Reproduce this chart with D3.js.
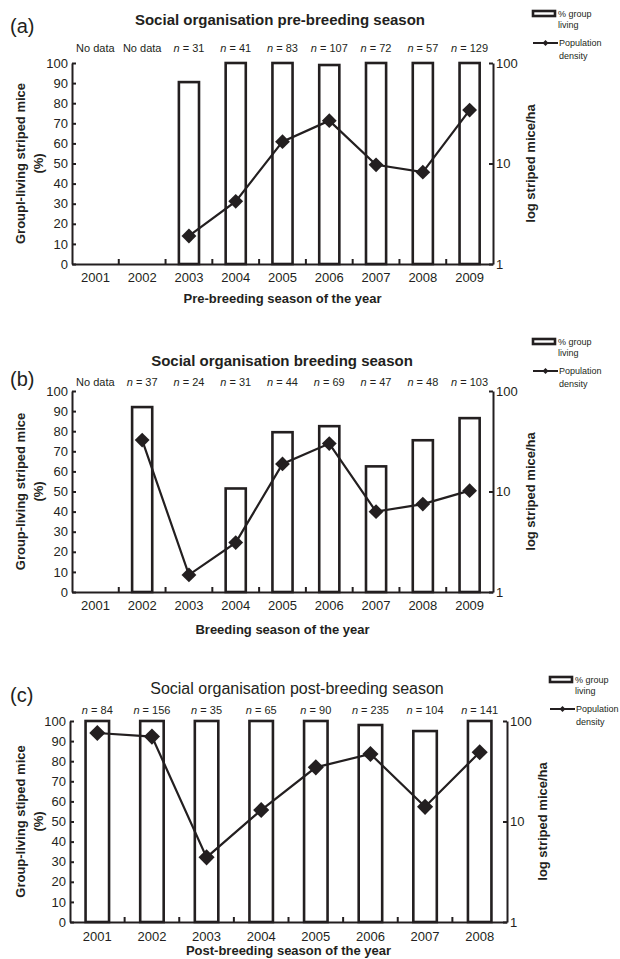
<!DOCTYPE html>
<html>
<head>
<meta charset="utf-8">
<script src="https://cdn.jsdelivr.net/npm/d3@7"></script>
<style>
  body { margin: 0; background: #fff; }
  svg text { font-family: "Liberation Sans", Arial, sans-serif; fill: #231f20; }
  .axis path, .axis line { stroke: #231f20; stroke-width: 2px; }
  .axis text { font-size: 13px; }
  .bar { fill: #fff; stroke: #231f20; stroke-width: 2.6px; }
  .density-line { fill: none; stroke: #231f20; stroke-width: 2.2px; }
  .marker { fill: #231f20; }
  .ntext { font-size: 11px; }
  .legend text { font-size: 9px; }
  .axis-title { font-size: 13px; font-weight: bold; }
</style>
</head>
<body>
<script>
// (a) pre-breeding
var yearsA   = ['2001', '2002', '2003', '2004', '2005', '2006', '2007', '2008', '2009'];
var sampleA  = ['No data', 'No data', '31', '41', '83', '107', '72', '57', '129'];
var groupA   = [null, null, 90.5, 100, 100, 99, 100, 100, 100];
var densityA = [null, null, 1.9, 4.2, 16.5, 26.7, 9.7, 8.2, 34];

// (b) breeding
var yearsB   = ['2001', '2002', '2003', '2004', '2005', '2006', '2007', '2008', '2009'];
var sampleB  = ['No data', '37', '24', '31', '44', '69', '47', '48', '103'];
var groupB   = [null, 92, 0, 51.5, 79.5, 82.5, 62.5, 75.5, 86.5];
var densityB = [null, 32.5, 1.48, 3.1, 18.8, 30, 6.3, 7.5, 10.2];

// (c) post-breeding
var yearsC   = ['2001', '2002', '2003', '2004', '2005', '2006', '2007', '2008'];
var sampleC  = ['84', '156', '35', '65', '90', '235', '104', '141'];
var groupC   = [100, 100, 100, 100, 100, 98, 95, 100];
var densityC = [76, 70, 4.4, 13, 34.6, 47, 14, 48.9];

var pctTicks = d3.range(0, 101, 10);
var logTicks = [1, 10, 100];

var svg = d3.select('body').append('svg')
  .attr('width', 620)
  .attr('height', 959);

function drawLegend (svg, lx, ly) {
  var lg = svg.append('g').attr('class', 'legend')
    .attr('transform', 'translate(' + lx + ',' + ly + ')');

  lg.append('rect')
    .attr('class', 'bar')
    .attr('x', 0).attr('y', 0)
    .attr('width', 22).attr('height', 5);
  lg.append('text').attr('x', 25).attr('y', 6).text('% group');
  lg.append('text').attr('x', 25).attr('y', 17).text('living');

  lg.append('line')
    .attr('x1', 0).attr('x2', 25)
    .attr('y1', 32).attr('y2', 32)
    .attr('stroke', '#231f20').attr('stroke-width', 2);
  lg.append('path')
    .attr('class', 'marker')
    .attr('d', d3.symbol(d3.symbolSquare, 18)())
    .attr('transform', 'translate(12.5,32) rotate(45)');
  lg.append('text').attr('x', 26).attr('y', 35).text('Population');
  lg.append('text').attr('x', 26).attr('y', 48).text('density');
}

function drawPanel (svg, p) {
  var w = p.right - p.left,
      h = p.bottom - p.top;

  var data = p.years.map(function (yr, i) {
    return { year: yr, n: p.sample[i], pct: p.group[i], dens: p.density[i] };
  });

  var x = d3.scaleBand().domain(p.years).range([0, w]);
  var y = d3.scaleLinear().domain([0, 100]).range([h, 0]);
  var yLog = d3.scaleLog().domain([1, 100]).range([h, 0]);

  var g = svg.append('g')
    .attr('transform', 'translate(' + p.left + ',' + p.top + ')');

  var barW = x.bandwidth() * 0.43;
  g.selectAll('.bar')
    .data(data.filter(function (d) { return d.pct; }))
    .enter().append('rect')
      .attr('class', 'bar')
      .attr('x', function (d) { return x(d.year) + (x.bandwidth() - barW) / 2; })
      .attr('y', function (d) { return y(d.pct); })
      .attr('width', barW)
      .attr('height', function (d) { return h - y(d.pct); });

  g.append('g')
    .attr('class', 'axis')
    .call(d3.axisLeft(y).tickValues(pctTicks).tickSizeInner(-4).tickSizeOuter(0).tickPadding(4));

  g.append('g')
    .attr('class', 'axis')
    .attr('transform', 'translate(' + w + ',0)')
    .call(d3.axisRight(yLog).tickValues(logTicks).tickFormat(d3.format('d'))
      .tickSizeInner(-4).tickSizeOuter(0).tickPadding(3));

  var xAxis = g.append('g')
    .attr('class', 'axis')
    .attr('transform', 'translate(0,' + h + ')')
    .call(d3.axisBottom(x).tickSize(0).tickPadding(p.tickPad));

  xAxis.selectAll('.between')
    .data(p.years.slice(1))
    .enter().append('line')
      .attr('class', 'between')
      .attr('x1', function (d) { return x(d); })
      .attr('x2', function (d) { return x(d); })
      .attr('y1', 0)
      .attr('y2', -5);

  var line = d3.line()
    .defined(function (d) { return d.dens != null; })
    .x(function (d) { return x(d.year) + x.bandwidth() / 2; })
    .y(function (d) { return yLog(d.dens); });

  g.append('path')
    .datum(data)
    .attr('class', 'density-line')
    .attr('d', line);

  g.selectAll('.marker')
    .data(data.filter(function (d) { return d.dens != null; }))
    .enter().append('path')
      .attr('class', 'marker')
      .attr('d', d3.symbol(d3.symbolSquare, p.markerSize)())
      .attr('transform', function (d) {
        return 'translate(' + (x(d.year) + x.bandwidth() / 2) + ',' + yLog(d.dens) + ') rotate(45)';
      });

  // sample sizes above the bars
  var nt = g.selectAll('.ntext')
    .data(data)
    .enter().append('text')
      .attr('class', 'ntext')
      .attr('text-anchor', 'middle')
      .attr('x', function (d) { return x(d.year) + x.bandwidth() / 2; })
      .attr('y', p.nY - p.top);
  nt.filter(function (d) { return d.n === 'No data'; }).text('No data');
  nt.filter(function (d) { return d.n !== 'No data'; })
    .each(function (d) {
      var t = d3.select(this);
      t.append('tspan').style('font-style', 'italic').text('n');
      t.append('tspan').text(' = ' + d.n);
    });

  // titles
  svg.append('text')
    .attr('x', 10).attr('y', p.letterY)
    .style('font-size', '20px')
    .text(p.letter);

  svg.append('text')
    .attr('x', p.titleX).attr('y', p.titleY)
    .attr('text-anchor', 'middle')
    .style('font-size', p.titleSize)
    .style('font-weight', p.titleWeight)
    .text(p.title);

  svg.append('text')
    .attr('class', 'axis-title')
    .attr('x', p.left + w / 2).attr('y', p.xTitleY)
    .attr('text-anchor', 'middle')
    .text(p.xTitle);

  var yc = p.top + h / 2;
  [[20, p.yTitle], [38, '(%)']].forEach(function (t) {
    svg.append('text')
      .attr('class', 'axis-title')
      .attr('text-anchor', 'middle')
      .attr('dy', '0.35em')
      .attr('transform', 'translate(' + t[0] + ',' + yc + ') rotate(-90)')
      .text(t[1]);
  });

  svg.append('text')
    .attr('class', 'axis-title')
    .attr('text-anchor', 'middle')
    .attr('dy', '0.35em')
    .attr('transform', 'translate(' + p.rTitleX + ',' + yc + ') rotate(-90)')
    .text('log striped mice/ha');

  drawLegend(svg, p.legendX, p.legendY);
}

drawPanel(svg, {
  years: yearsA, sample: sampleA, group: groupA, density: densityA,
  left: 72, right: 493, top: 63, bottom: 264, tickPad: 9, markerSize: 110,
  nY: 52, letter: '(a)', letterY: 33,
  title: 'Social organisation pre-breeding season', titleX: 280, titleY: 25, titleSize: '15px', titleWeight: 'bold',
  xTitle: 'Pre-breeding season of the year', xTitleY: 303,
  yTitle: 'Groupl-living striped mice', rTitleX: 530,
  legendX: 533, legendY: 11
});

drawPanel(svg, {
  years: yearsB, sample: sampleB, group: groupB, density: densityB,
  left: 72, right: 493, top: 391, bottom: 592, tickPad: 9, markerSize: 110,
  nY: 386, letter: '(b)', letterY: 386,
  title: 'Social organisation breeding season', titleX: 282, titleY: 366, titleSize: '15px', titleWeight: 'bold',
  xTitle: 'Breeding season of the year', xTitleY: 634,
  yTitle: 'Group-living striped mice', rTitleX: 530,
  legendX: 533, legendY: 339
});

drawPanel(svg, {
  years: yearsC, sample: sampleC, group: groupC, density: densityC,
  left: 70, right: 507, top: 721, bottom: 922, tickPad: 10, markerSize: 130,
  nY: 714, letter: '(c)', letterY: 702,
  title: 'Social organisation post-breeding season', titleX: 297, titleY: 694, titleSize: '16px', titleWeight: 'normal',
  xTitle: 'Post-breeding season of the year', xTitleY: 955,
  yTitle: 'Group-living stiped mice', rTitleX: 542,
  legendX: 550, legendY: 677
});
</script>
</body>
</html>
